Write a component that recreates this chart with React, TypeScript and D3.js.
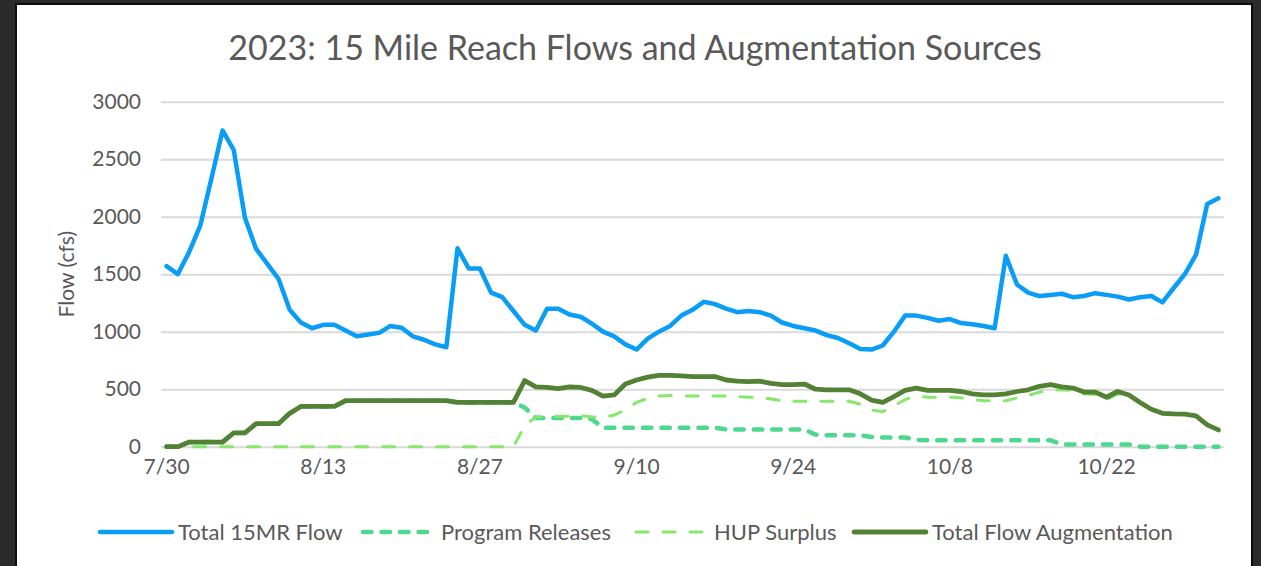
import React, { useEffect, useRef } from 'react';
import * as d3 from 'd3';

// daily values, 7/30 .. 11/1 (2023)
const startDate = new Date(2023, 6, 30);
const endDate = new Date(2023, 10, 2);
const tickLabels = ['7/30', '8/13', '8/27', '9/10', '9/24', '10/8', '10/22'];
const yTicks = [0, 500, 1000, 1500, 2000, 2500, 3000];

const totalFlow = [
  1570, 1500, 1690, 1920, 2330, 2750, 2580, 1990, 1720, 1590,
  1460, 1190, 1080, 1030, 1060, 1060, 1010, 960, 975, 990,
  1050, 1035, 960, 930, 890, 865, 1725, 1550, 1550, 1340,
  1300, 1180, 1060, 1010, 1200, 1200, 1150, 1130, 1070, 1000,
  960, 890, 845, 940, 1000, 1050, 1140, 1190, 1260, 1240,
  1200, 1170, 1180, 1170, 1140, 1080, 1050, 1030, 1010, 970,
  945, 900, 850, 845, 880, 1000, 1140, 1140, 1120, 1095,
  1110, 1075, 1065, 1050, 1030, 1660, 1410, 1340, 1310, 1320,
  1330, 1300, 1310, 1335, 1320, 1305, 1280, 1300, 1310, 1255,
  1380, 1500, 1670, 2110, 2160,
];

const programReleases = [
  0, 0, 40, 40, 40, 40, 120, 120, 200, 200,
  200, 290, 350, 350, 350, 350, 400, 400, 400, 400,
  400, 400, 400, 400, 400, 400, 385, 385, 385, 385,
  385, 385, 340, 250, 250, 250, 250, 250, 240, 165,
  165, 165, 165, 165, 165, 165, 165, 165, 165, 165,
  150, 150, 150, 150, 150, 150, 150, 150, 105, 100,
  100, 100, 100, 85, 80, 80, 80, 60, 55, 55,
  55, 55, 55, 55, 55, 55, 55, 55, 55, 55,
  20, 20, 20, 20, 20, 20, 20, 0, 0, 0,
  0, 0, 0, 0, 0,
];

const hupSurplus = [
  0, 0, 0, 0, 0, 0, 0, 0, 0, 0,
  0, 0, 0, 0, 0, 0, 0, 0, 0, 0,
  0, 0, 0, 0, 0, 0, 0, 0, 0, 0,
  0, 0, 180, 260, 260, 265, 265, 270, 260, 255,
  275, 320, 385, 420, 440, 445, 440, 440, 440, 440,
  440, 435, 430, 430, 415, 400, 395, 395, 395, 395,
  395, 395, 370, 320, 305, 355, 410, 440, 430, 430,
  430, 425, 410, 400, 400, 400, 425, 445, 475, 490,
  495, 490, 458, 455, 410, 460, 430, 385, 325, 290,
  285, 283, 268, 190, 146,
];

const totalAugmentation = [
  0, 0, 40, 40, 40, 40, 120, 120, 200, 200,
  200, 290, 350, 350, 350, 350, 400, 400, 400, 400,
  400, 400, 400, 400, 400, 400, 385, 385, 385, 385,
  385, 385, 575, 520, 515, 505, 520, 515, 490, 440,
  450, 545, 580, 605, 620, 620, 615, 610, 610, 610,
  580, 570, 565, 570, 550, 540, 540, 545, 500, 495,
  495, 495, 460, 405, 385, 435, 490, 510, 490, 490,
  490, 480, 460, 450, 450, 460, 480, 495, 525, 540,
  520, 510, 475, 475, 430, 480, 450, 385, 325, 290,
  285, 283, 268, 190, 146,
];

const series = [
  { name: 'Total 15MR Flow', values: totalFlow, color: '#0A9DF7', width: 4.5, dash: null, legendX: 100 },
  { name: 'Program Releases', values: programReleases, color: '#4DD88E', width: 4.5, dash: '8.5,10', legendX: 363 },
  { name: 'HUP Surplus', values: hupSurplus, color: '#86E86A', width: 3, dash: '12,15', legendX: 636 },
  { name: 'Total Flow Augmentation', values: totalAugmentation, color: '#548235', width: 4.8, dash: null, legendX: 854 },
];

const W = 1261;
const H = 566;
const margin = { top: 101.7, right: 37, bottom: 119.3, left: 161 };
const FONT = 'Lato, "Noto Sans", sans-serif';
const TEXT = '#595959';

const App = () => {
  const ref = useRef<SVGSVGElement | null>(null);

  useEffect(() => {
    const svg = d3.select(ref.current);
    svg.selectAll('*').remove();

    const fmt = d3.timeFormat('%-m/%-d');
    const dates = d3.timeDay.range(startDate, endDate).map(d => fmt(d));

    // dark frame + white panel
    svg.append('rect').attr('width', W).attr('height', H).attr('fill', '#2b2b2b');
    svg.append('rect')
      .attr('x', 16).attr('y', 4).attr('width', 1236).attr('height', H)
      .attr('fill', '#fff').attr('stroke', '#0d0d0d').attr('stroke-width', 2);

    const plotW = W - margin.left - margin.right;
    const plotH = H - margin.top - margin.bottom;

    const x = d3.scaleBand().domain(dates).range([0, plotW]).padding(0);
    const y = d3.scaleLinear().domain([0, 3000]).range([plotH, 0]);
    const cx = (i: number) => (x(dates[i]) as number) + x.bandwidth() / 2;

    const g = svg.append('g').attr('transform', `translate(${margin.left},${margin.top})`);

    // gridlines + y labels
    const yAxis = g.append('g')
      .call(d3.axisLeft(y).tickValues(yTicks).tickFormat(d3.format('d')).tickSize(-plotW).tickPadding(20));
    yAxis.select('.domain').remove();
    yAxis.selectAll('.tick line').attr('stroke', '#d9d9d9').attr('stroke-width', 2);
    yAxis.selectAll('.tick text')
      .attr('fill', TEXT).attr('font-size', 21).attr('font-family', FONT);

    // x labels
    const xAxis = g.append('g')
      .attr('transform', `translate(0,${plotH})`)
      .call(d3.axisBottom(x).tickValues(tickLabels).tickSize(0).tickPadding(12));
    xAxis.select('.domain').remove();
    xAxis.selectAll('.tick text')
      .attr('fill', TEXT).attr('font-size', 21).attr('font-family', FONT);

    // lines
    series.forEach(s => {
      const line = d3.line<number>()
        .x((_, i) => cx(i))
        .y(d => y(d));
      const p = g.append('path')
        .datum(s.values)
        .attr('d', line)
        .attr('fill', 'none')
        .attr('stroke', s.color)
        .attr('stroke-width', s.width)
        .attr('stroke-linejoin', 'round')
        .attr('stroke-linecap', 'round');
      if (s.dash) p.attr('stroke-dasharray', s.dash);
    });

    // title
    svg.append('text')
      .attr('x', 635).attr('y', 60)
      .attr('text-anchor', 'middle')
      .attr('fill', TEXT).attr('font-size', 34).attr('font-family', FONT)
      .text('2023: 15 Mile Reach Flows and Augmentation Sources');

    // y axis title
    svg.append('text')
      .attr('transform', `translate(74,${margin.top + plotH / 2}) rotate(-90)`)
      .attr('text-anchor', 'middle')
      .attr('fill', TEXT).attr('font-size', 21).attr('font-family', FONT)
      .text('Flow (cfs)');

    // legend
    const legend = svg.append('g').attr('transform', 'translate(0,532)');
    series.forEach(s => {
      const l = legend.append('line')
        .attr('x1', s.legendX).attr('x2', s.legendX + 72)
        .attr('stroke', s.color).attr('stroke-width', s.width)
        .attr('stroke-linecap', 'round');
      if (s.dash) l.attr('stroke-dasharray', s.dash);
      legend.append('text')
        .attr('x', s.legendX + 78).attr('y', 0).attr('dy', '0.35em')
        .attr('fill', TEXT).attr('font-size', 22).attr('font-family', FONT)
        .text(s.name);
    });
  }, []);

  return (
    <div style={{ position: 'absolute', left: 0, top: 0 }}>
      <svg ref={ref} width={W} height={H} style={{ display: 'block' }} />
    </div>
  );
};

export default App;
